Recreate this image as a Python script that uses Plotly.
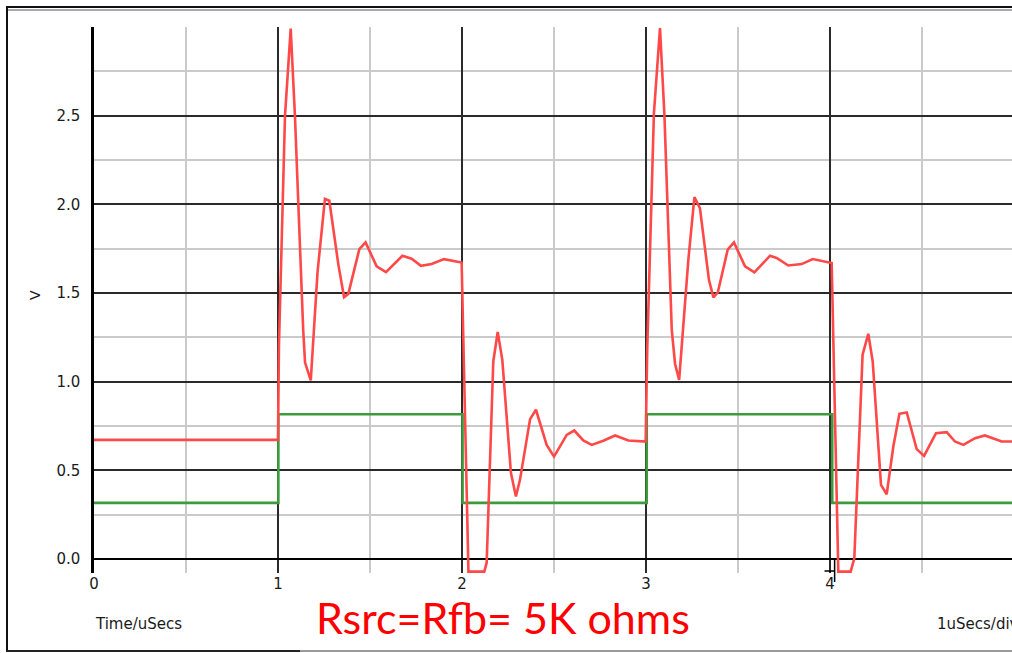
import plotly.graph_objects as go

# Simulated transient response: output (red) and input step (green)
t_out = [0.0, 1.0, 1.005, 1.038, 1.069, 1.092, 1.137, 1.147, 1.178, 1.215,
         1.255, 1.279, 1.328, 1.359, 1.382, 1.442, 1.476, 1.536, 1.587, 1.676,
         1.726, 1.777, 1.835, 1.902, 1.998, 2.035, 2.121, 2.134, 2.170, 2.194,
         2.219, 2.266, 2.293, 2.315, 2.370, 2.402, 2.460, 2.500, 2.569, 2.610,
         2.659, 2.705, 2.768, 2.832, 2.904, 2.998, 3.007, 3.043, 3.076, 3.100,
         3.140, 3.158, 3.180, 3.230, 3.263, 3.293, 3.342, 3.366, 3.390, 3.444,
         3.478, 3.538, 3.589, 3.674, 3.710, 3.773, 3.846, 3.906, 4.009, 4.045,
         4.112, 4.132, 4.177, 4.208, 4.232, 4.277, 4.308, 4.344, 4.377, 4.417,
         4.471, 4.511, 4.576, 4.634, 4.679, 4.725, 4.788, 4.842, 4.933, 4.989]
v_out = [0.672, 0.672, 1.200, 2.500, 2.990, 2.500, 1.290, 1.108, 1.007, 1.620,
         2.030, 2.020, 1.660, 1.477, 1.495, 1.747, 1.785, 1.650, 1.618, 1.710,
         1.693, 1.653, 1.663, 1.691, 1.672, -0.070, -0.070, -0.020, 1.114, 1.280,
         1.123, 0.485, 0.353, 0.447, 0.789, 0.842, 0.644, 0.578, 0.700, 0.725,
         0.669, 0.644, 0.667, 0.697, 0.669, 0.663, 1.200, 2.514, 2.993, 2.505,
         1.290, 1.100, 1.010, 1.687, 2.040, 1.978, 1.574, 1.475, 1.503, 1.744,
         1.785, 1.650, 1.616, 1.710, 1.697, 1.655, 1.663, 1.691, 1.669, -0.070,
         -0.070, 0.005, 1.152, 1.270, 1.114, 0.419, 0.366, 0.635, 0.819, 0.827,
         0.620, 0.582, 0.710, 0.716, 0.663, 0.644, 0.682, 0.697, 0.663, 0.663]

t_in = [0.0, 1.002, 2.003, 3.004, 4.012, 4.989]
v_in = [0.317, 0.817, 0.317, 0.817, 0.317, 0.317]

x_ticks = [0, 1, 2, 3, 4]
y_ticks = [0.0, 0.5, 1.0, 1.5, 2.0, 2.5]
y_tick_text = ["0.0", "0.5", "1.0", "1.5", "2.0", "2.5"]

X_RANGE = [0.0, 4.989]
Y_RANGE = [-0.078, 2.999]

W, H = 1012, 653
ML, MR, MT, MB = 94, 0, 27, 80
PW, PH = W - ML - MR, H - MT - MB

def px_x(px):
    return (px - ML) / PW

def px_y(py):
    return (H - MB - py) / PH

def data_x(x):
    return (x - X_RANGE[0]) / (X_RANGE[1] - X_RANGE[0])

TEXT = "#1a1a1a"
FONT = "DejaVu Sans"

fig = go.Figure()
fig.add_trace(go.Scatter(x=t_in, y=v_in, mode="lines", line_shape="hv",
                         line=dict(color="#3d9b3d", width=2.6), hoverinfo="skip"))
fig.add_trace(go.Scatter(x=t_out, y=v_out, mode="lines",
                         line=dict(color="#ff4848", width=2.6), hoverinfo="skip"))

fig.update_layout(
    width=W, height=H,
    margin=dict(l=ML, r=MR, t=MT, b=MB),
    paper_bgcolor="white", plot_bgcolor="white",
    showlegend=False,
    xaxis=dict(range=X_RANGE, tickvals=x_ticks, ticktext=[str(v) for v in x_ticks],
               showgrid=True, gridcolor="#2a2a2a", gridwidth=1.5,
               minor=dict(dtick=0.5, tick0=0, showgrid=True, gridcolor="#cacaca", gridwidth=1.5),
               zeroline=False, showline=False, ticks="",
               tickfont=dict(family=FONT, size=15, color=TEXT), ticklabelstandoff=0),
    yaxis=dict(range=Y_RANGE, tickvals=y_ticks, ticktext=y_tick_text,
               showgrid=True, gridcolor="#2a2a2a", gridwidth=1.5,
               minor=dict(dtick=0.25, tick0=0, showgrid=True, gridcolor="#cacaca", gridwidth=1.5),
               zeroline=True, zerolinecolor="#000000", zerolinewidth=2,
               showline=True, linecolor="#000000", linewidth=2.5, ticks="",
               tickfont=dict(family=FONT, size=15, color=TEXT), ticklabelstandoff=8),
)

annotations = [
    dict(text="Time/uSecs", x=px_x(93), y=px_y(624), xanchor="left", yanchor="middle",
         font=dict(family=FONT, size=15, color=TEXT)),
    dict(text="1uSecs/div", x=px_x(935), y=px_y(624), xanchor="left", yanchor="middle",
         font=dict(family=FONT, size=15, color=TEXT)),
    dict(text="V", x=px_x(35), y=px_y(295), xanchor="center", yanchor="middle",
         textangle=-90, font=dict(family=FONT, size=14, color=TEXT)),
    dict(text="Rsrc=Rfb= 5K ohms", x=px_x(503), y=px_y(617), xanchor="center", yanchor="middle",
         font=dict(family="Lato", size=43, color="#ff0000")),
]
for a in annotations:
    a.update(xref="paper", yref="paper", showarrow=False)
fig.update_layout(annotations=annotations)

shapes = [
    # window frame: left edge, top edge with its grey bevel, bottom edge
    dict(type="line", x0=px_x(7), x1=px_x(7), y0=px_y(6), y1=px_y(651),
         line=dict(color="#111111", width=2)),
    dict(type="line", x0=px_x(6), x1=1.0, y0=px_y(7), y1=px_y(7),
         line=dict(color="#111111", width=2)),
    dict(type="line", x0=px_x(8), x1=1.0, y0=px_y(10), y1=px_y(10),
         line=dict(color="#a8a8b0", width=2)),
    dict(type="line", x0=px_x(6), x1=px_x(300), y0=px_y(651), y1=px_y(651),
         line=dict(color="#222222", width=2)),
    dict(type="line", x0=px_x(300), x1=1.0, y0=px_y(651), y1=px_y(651),
         line=dict(color="#9a9a9a", width=2)),
    # cursor marker near t = 4
    dict(type="line", x0=data_x(3.97), x1=data_x(4.025), y0=px_y(571), y1=px_y(571),
         line=dict(color="#000000", width=1.5)),
    dict(type="line", x0=data_x(4.025), x1=data_x(4.025), y0=px_y(560), y1=px_y(582),
         line=dict(color="#000000", width=1.5)),
]
for s in shapes:
    s.update(xref="paper", yref="paper", layer="above")
fig.update_layout(shapes=shapes)

fig.write_html("out.html", config={"displayModeBar": False})
